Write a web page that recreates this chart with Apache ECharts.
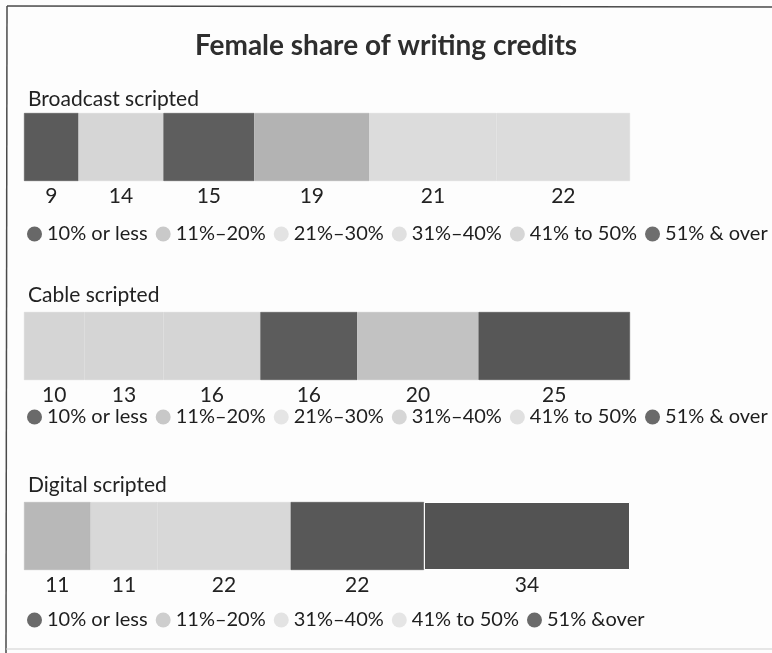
<!DOCTYPE html>
<html>
<head>
<meta charset="utf-8">
<script src="https://cdn.jsdelivr.net/npm/echarts@6/dist/echarts.min.js"></script>
<style>
  html, body { margin: 0; padding: 0; background: #fff; }
  #chart { width: 772px; height: 653px; }
</style>
</head>
<body>
<div id="chart"></div>
<script>
// Share of writing credits by female-share band, one stacked bar per platform
const chartTitle = 'Female share of writing credits';
const panelNames = ['Broadcast scripted', 'Cable scripted', 'Digital scripted'];

const broadcastBands = ['10% or less', '11%–20%', '21%–30%', '31%–40%', '41% to 50%', '51% & over'];
const broadcastValues = [9, 14, 15, 19, 21, 22];

const cableBands = ['10% or less', '11%–20%', '21%–30%', '31%–40%', '41% to 50%', '51% & over'];
const cableValues = [10, 13, 16, 16, 20, 25];

const digitalBands = ['10% or less', '11%–20%', '31%–40%', '41% to 50%', '51% &over'];
const digitalValues = [11, 11, 22, 22, 34];

// Grey fills for the bar segments and for the legend swatches
const segmentColors = [
  ['#5b5b5b', '#d6d6d6', '#5e5e5e', '#b3b3b3', '#dcdcdc', '#dcdcdc'],
  ['#d5d5d5', '#d5d5d5', '#d5d5d5', '#5c5c5c', '#c2c2c2', '#575757'],
  ['#b8b8b8', '#d8d8d8', '#d8d8d8', '#585858', '#535353']
];
const swatchColors = [
  ['#686868', '#c9c9c9', '#e3e3e3', '#e0e0e0', '#d6d6d6', '#6e6e6e'],
  ['#6a6a6a', '#c8c8c8', '#e5e5e5', '#d6d6d6', '#e0e0e0', '#6a6a6a'],
  ['#6a6a6a', '#cecece', '#e3e3e3', '#e5e5e5', '#6a6a6a']
];

const panels = [
  { bands: broadcastBands, values: broadcastValues },
  { bands: cableBands, values: cableValues },
  { bands: digitalBands, values: digitalValues }
];

const FONT = 'Lato, "Open Sans", sans-serif';
const gridTops = [113, 312, 502];
const gridHeight = 68;
const legendTops = [219, 402, 605];
const nameTops = [84, 280, 470];

const grids = [], xAxes = [], yAxes = [], series = [], legends = [];
const titles = [{
  text: chartTitle,
  left: 'center',
  top: 27,
  textStyle: { fontFamily: FONT, fontSize: 28, fontWeight: 'bold', color: '#2e2e2e' }
}];

panels.forEach((p, i) => {
  titles.push({
    text: panelNames[i],
    left: 23,
    top: nameTops[i],
    textStyle: { fontFamily: FONT, fontSize: 21, fontWeight: 'normal', color: '#222' }
  });
  grids.push({ left: 24, width: 606, top: gridTops[i], height: gridHeight });
  xAxes.push({ gridIndex: i, type: 'value', min: 0, max: 100, show: false });
  yAxes.push({ gridIndex: i, type: 'category', data: [panelNames[i]], show: false });
  p.bands.forEach((band, j) => {
    // fill-coloured outline hides the hairline seams between same-grey segments
    const style = { color: segmentColors[i][j], borderColor: segmentColors[i][j], borderWidth: 0.6 };
    // thin white divider where two dark digital segments meet
    if (i === 2 && j === 4) { style.borderColor = '#ffffff'; style.borderWidth = 1; }
    series.push({
      type: 'bar',
      name: band,
      xAxisIndex: i,
      yAxisIndex: i,
      stack: 'panel' + i,
      barCategoryGap: 0,
      barWidth: '100%',
      data: [p.values[j]],
      itemStyle: style,
      label: {
        show: true,
        position: 'bottom',
        distance: 5,
        fontFamily: FONT,
        fontSize: 21,
        color: '#222'
      }
    });
  });
  legends.push({
    left: 22,
    top: legendTops[i],
    width: 760,
    itemGap: 8,
    itemWidth: 15,
    itemHeight: 15,
    icon: 'circle',
    selectedMode: false,
    textStyle: { fontFamily: FONT, fontSize: 20, color: '#1e1e1e' },
    data: p.bands.map((b, j) => ({ name: b, itemStyle: { color: swatchColors[i][j], borderWidth: 0 } }))
  });
});

const chart = echarts.init(document.getElementById('chart'), null, { renderer: 'canvas' });
chart.setOption({
  animation: false,
  backgroundColor: '#fdfdfd',
  title: titles,
  grid: grids,
  xAxis: xAxes,
  yAxis: yAxes,
  legend: legends,
  series: series,
  graphic: [
    { type: 'line', shape: { x1: 7, y1: 6, x2: 772, y2: 7 }, style: { stroke: '#4a4a4a', lineWidth: 1.5 } },
    { type: 'line', shape: { x1: 7, y1: 6, x2: 6, y2: 653 }, style: { stroke: '#4a4a4a', lineWidth: 1.5 } },
    { type: 'line', shape: { x1: 6, y1: 649, x2: 772, y2: 649 }, style: { stroke: '#cfcfcf', lineWidth: 1 } }
  ]
});
</script>
</body>
</html>
